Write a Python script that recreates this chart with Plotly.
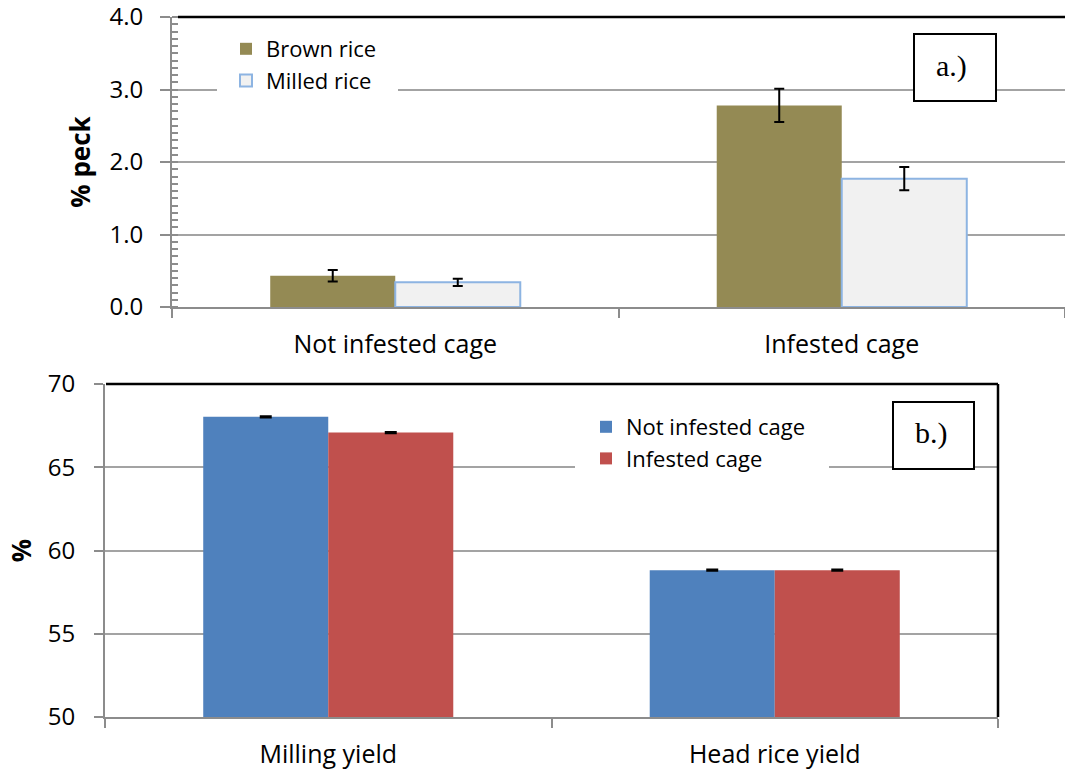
import plotly.graph_objects as go

# ---- panel a data ----
cages = ["Not infested cage", "Infested cage"]
brown_rice = [0.43, 2.78]
brown_rice_err = [0.08, 0.23]
milled_rice = [0.34, 1.77]
milled_rice_err = [0.05, 0.16]

# ---- panel b data ----
yield_types = ["Milling yield", "Head rice yield"]
not_infested = [68.03, 58.82]
not_infested_err = [0.04, 0.04]
infested = [67.08, 58.82]
infested_err = [0.04, 0.04]

W, H = 1065, 771
FONT = "Open Sans"
GRID = "#A3A3A3"
AXIS = "#8C8C8C"

def px(x):
    return x / W

def py(y):
    return 1 - y / H

fig = go.Figure()

fig.add_trace(go.Bar(
    x=cages, y=brown_rice, name="Brown rice", xaxis="x", yaxis="y",
    marker=dict(color="#948A54", line=dict(width=0)),
    error_y=dict(type="data", array=brown_rice_err, color="black", thickness=2, width=5),
    legend="legend",
))
fig.add_trace(go.Bar(
    x=cages, y=milled_rice, name="Milled rice", xaxis="x", yaxis="y",
    marker=dict(color="#F1F1F1", line=dict(color="#8DB4E2", width=2)),
    error_y=dict(type="data", array=milled_rice_err, color="black", thickness=2, width=5),
    legend="legend",
))
fig.add_trace(go.Bar(
    x=yield_types, y=not_infested, name="Not infested cage", xaxis="x2", yaxis="y2",
    marker=dict(color="#4F81BD", line=dict(width=0)),
    error_y=dict(type="data", array=not_infested_err, color="black", thickness=2, width=6),
    legend="legend2",
))
fig.add_trace(go.Bar(
    x=yield_types, y=infested, name="Infested cage", xaxis="x2", yaxis="y2",
    marker=dict(color="#C0504D", line=dict(width=0)),
    error_y=dict(type="data", array=infested_err, color="black", thickness=2, width=6),
    legend="legend2",
))

common_x = dict(
    type="category", showline=True, linecolor=AXIS, linewidth=2,
    ticks="outside", tickson="boundaries", ticklen=9, tickcolor=AXIS, tickwidth=1.5,
    showgrid=False, tickfont=dict(family=FONT, size=25, color="black"),
    ticklabelstandoff=14, fixedrange=True, automargin=False, ticklabeloverflow="allow",
)

fig.update_layout(
    template="none",
    width=W, height=H,
    margin=dict(l=0, r=0, t=0, b=0, pad=0),
    paper_bgcolor="white", plot_bgcolor="white",
    barmode="group", bargap=0.44, bargroupgap=0,
    font=dict(family=FONT, size=24, color="black"),
    xaxis=dict(domain=[px(172), 1.0], anchor="y", range=[-0.5, 1.5], **common_x),
    yaxis=dict(
        domain=[py(307), py(17)], anchor="x", range=[0, 4], automargin=False,
        tickvals=[0, 1, 2, 3, 4], ticktext=["0.0", "1.0", "2.0", "3.0", "4.0"],
        ticklabeloverflow="allow",
        showline=True, linecolor=AXIS, linewidth=2,
        ticks="outside", ticklen=10, tickcolor=AXIS, tickwidth=2,
        minor=dict(ticks="inside", dtick=0.1, ticklen=6, tickcolor=AXIS, tickwidth=2, showgrid=False),
        showgrid=True, gridcolor=GRID, gridwidth=2, zeroline=False,
        tickfont=dict(family=FONT, size=24, color="black"), ticklabelstandoff=12,
        title=dict(text="<b>% peck</b>", font=dict(family=FONT, size=26, color="black"), standoff=11),
    ),
    xaxis2=dict(domain=[px(105), px(998)], anchor="y2", range=[-0.5, 1.5], **common_x),
    yaxis2=dict(
        domain=[py(717), py(384)], anchor="x2", range=[50, 70], automargin=False,
        tickvals=[50, 55, 60, 65, 70], ticklabeloverflow="allow",
        showline=True, linecolor=AXIS, linewidth=2,
        ticks="outside", ticklen=9, tickcolor=AXIS, tickwidth=2,
        showgrid=True, gridcolor=GRID, gridwidth=2, zeroline=False,
        tickfont=dict(family=FONT, size=24, color="black"), ticklabelstandoff=14,
        title=dict(text="<b>%</b>", font=dict(family=FONT, size=26, color="black"), standoff=9),
    ),
    legend=dict(
        x=px(226), y=py(28), xanchor="left", yanchor="top",
        bgcolor="white", borderwidth=0, font=dict(family=FONT, size=22, color="black"),
        itemwidth=30, tracegroupgap=0,
    ),
    legend2=dict(
        x=px(586), y=py(406), xanchor="left", yanchor="top",
        bgcolor="white", borderwidth=0, font=dict(family=FONT, size=22, color="black"),
        itemwidth=30, tracegroupgap=0,
    ),
    showlegend=True,
)

# white backing behind legends (hides gridline like the original legend box)
fig.add_shape(type="rect", xref="paper", yref="paper", x0=px(217), x1=px(398), y0=py(98), y1=py(30),
              line=dict(width=0), fillcolor="white", layer="above")
fig.add_shape(type="rect", xref="paper", yref="paper", x0=px(575), x1=px(829), y0=py(476), y1=py(406),
              line=dict(width=0), fillcolor="white", layer="above")

# borders: black top line of panel a, black top/right of panel b
fig.add_shape(type="line", xref="paper", yref="paper", x0=px(178), x1=1.0, y0=py(17), y1=py(17),
              line=dict(color="black", width=2.5))
fig.add_shape(type="line", xref="paper", yref="paper", x0=px(106), x1=px(998), y0=py(384), y1=py(384),
              line=dict(color="black", width=2.5))
fig.add_shape(type="line", xref="paper", yref="paper", x0=px(998), x1=px(998), y0=py(384), y1=py(717),
              line=dict(color="black", width=2.5))

# panel label boxes
fig.add_shape(type="rect", xref="paper", yref="paper", x0=px(914), x1=px(996), y0=py(101), y1=py(34),
              line=dict(color="black", width=2), fillcolor="white", layer="above")
fig.add_annotation(xref="paper", yref="paper", x=px(951), y=py(66), text="a.)", showarrow=False,
                   xanchor="center", yanchor="middle",
                   font=dict(family="Liberation Serif", size=30, color="black"))
fig.add_shape(type="rect", xref="paper", yref="paper", x0=px(893), x1=px(974), y0=py(469), y1=py(402),
              line=dict(color="black", width=2), fillcolor="white", layer="above")
fig.add_annotation(xref="paper", yref="paper", x=px(931), y=py(433), text="b.)", showarrow=False,
                   xanchor="center", yanchor="middle",
                   font=dict(family="Liberation Serif", size=30, color="black"))

fig.write_html("out.html")
